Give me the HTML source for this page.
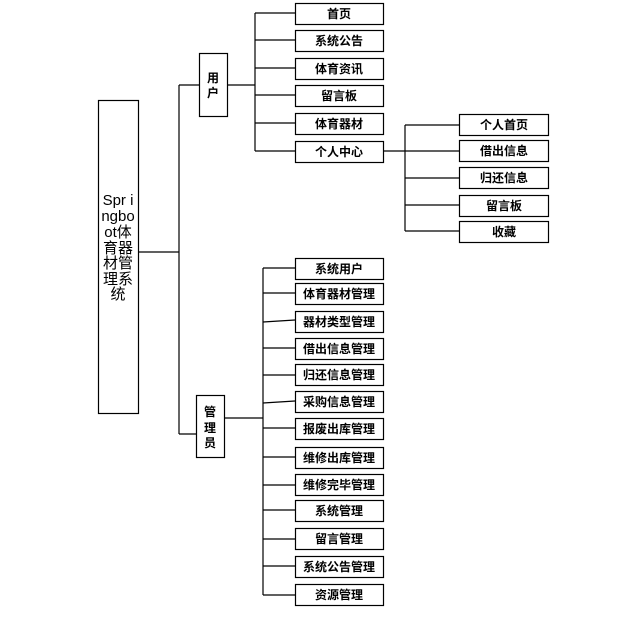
<!DOCTYPE html>
<html><head><meta charset="utf-8"><style>
html,body{margin:0;padding:0;background:#fff;}
svg text{font-family:"Liberation Sans","Noto Sans CJK SC",sans-serif;}
</style></head><body>
<svg width="630" height="618" viewBox="0 0 630 618" xmlns="http://www.w3.org/2000/svg">
<g stroke="#000" stroke-width="1.2" fill="none">
<!-- root -->
<rect x="98.5" y="100.5" width="40" height="313" fill="#fff"/>
<line x1="138" y1="252" x2="179" y2="252"/>
<line x1="179" y1="85" x2="179" y2="434"/>
<line x1="179" y1="85" x2="199" y2="85"/>
<line x1="179" y1="434" x2="196" y2="434"/>
<!-- user -->
<rect x="199.5" y="53.5" width="28" height="63" fill="#fff"/>
<line x1="227" y1="85" x2="255" y2="85"/>
<line x1="255" y1="13" x2="255" y2="151"/>
<line x1="255" y1="13" x2="295" y2="13"/>
<line x1="255" y1="40" x2="295" y2="40"/>
<line x1="255" y1="68" x2="295" y2="68"/>
<line x1="255" y1="95" x2="295" y2="95"/>
<line x1="255" y1="123" x2="295" y2="123"/>
<line x1="255" y1="151" x2="295" y2="151"/>
<rect x="295.5" y="3.5" width="88" height="21"/>
<rect x="295.5" y="30.5" width="88" height="21"/>
<rect x="295.5" y="58.5" width="88" height="21"/>
<rect x="295.5" y="85.5" width="88" height="21"/>
<rect x="295.5" y="113.5" width="88" height="21"/>
<rect x="295.5" y="141.5" width="88" height="21"/>
<!-- personal -->
<line x1="383" y1="151" x2="459" y2="151"/>
<line x1="405" y1="125" x2="405" y2="231"/>
<line x1="405" y1="125" x2="459" y2="125"/>
<line x1="405" y1="178" x2="459" y2="178"/>
<line x1="405" y1="205" x2="459" y2="205"/>
<line x1="405" y1="231" x2="459" y2="231"/>
<rect x="459.5" y="114.5" width="89" height="21"/>
<rect x="459.5" y="140.5" width="89" height="21"/>
<rect x="459.5" y="167.5" width="89" height="21"/>
<rect x="459.5" y="195.5" width="89" height="21"/>
<rect x="459.5" y="221.5" width="89" height="21"/>
<!-- manager -->
<rect x="196.5" y="395.5" width="28" height="62" fill="#fff"/>
<line x1="224" y1="418" x2="263" y2="418"/>
<line x1="263" y1="268" x2="263" y2="595"/>
<line x1="263" y1="268" x2="295" y2="268"/>
<line x1="263" y1="293" x2="295" y2="293"/>
<line x1="263" y1="322" x2="295" y2="320"/>
<line x1="263" y1="348" x2="295" y2="348"/>
<line x1="263" y1="375" x2="295" y2="375"/>
<line x1="263" y1="403" x2="295" y2="401"/>
<line x1="263" y1="428" x2="295" y2="428"/>
<line x1="263" y1="457" x2="295" y2="457"/>
<line x1="263" y1="485" x2="295" y2="485"/>
<line x1="263" y1="510" x2="295" y2="510"/>
<line x1="263" y1="539" x2="295" y2="539"/>
<line x1="263" y1="566" x2="295" y2="566"/>
<line x1="263" y1="595" x2="295" y2="595"/>
<rect x="295.5" y="258.5" width="88" height="21"/>
<rect x="295.5" y="283.5" width="88" height="21"/>
<rect x="295.5" y="311.5" width="88" height="21"/>
<rect x="295.5" y="338.5" width="88" height="21"/>
<rect x="295.5" y="364.5" width="88" height="21"/>
<rect x="295.5" y="391.5" width="88" height="21"/>
<rect x="295.5" y="418.5" width="88" height="21"/>
<rect x="295.5" y="447.5" width="88" height="21"/>
<rect x="295.5" y="474.5" width="88" height="21"/>
<rect x="295.5" y="500.5" width="88" height="21"/>
<rect x="295.5" y="528.5" width="88" height="21"/>
<rect x="295.5" y="556.5" width="88" height="21"/>
<rect x="295.5" y="584.5" width="88" height="21"/>
</g>
<g font-size="15" text-anchor="middle" fill="#000">
<text x="118" y="205">Spr i</text>
<text x="118" y="221">ngbo</text>
<text x="118" y="237">ot体</text>
<text x="118" y="253">育器</text>
<text x="118" y="268">材管</text>
<text x="118" y="284">理系</text>
<text x="118" y="299">统</text>
</g>
<g font-size="12" font-weight="bold" text-anchor="middle" fill="#000">
<text x="213" y="82">用</text><text x="213" y="97">户</text>
<text x="210" y="416">管</text><text x="210" y="432">理</text><text x="210" y="447">员</text>
<text x="339" y="18">首页</text>
<text x="339" y="45">系统公告</text>
<text x="339" y="73">体育资讯</text>
<text x="339" y="100">留言板</text>
<text x="339" y="128">体育器材</text>
<text x="339" y="156">个人中心</text>
<text x="504" y="129">个人首页</text>
<text x="504" y="155">借出信息</text>
<text x="504" y="182">归还信息</text>
<text x="504" y="210">留言板</text>
<text x="504" y="236">收藏</text>
<text x="339" y="273">系统用户</text>
<text x="339" y="298">体育器材管理</text>
<text x="339" y="326">器材类型管理</text>
<text x="339" y="353">借出信息管理</text>
<text x="339" y="379">归还信息管理</text>
<text x="339" y="406">采购信息管理</text>
<text x="339" y="433">报废出库管理</text>
<text x="339" y="462">维修出库管理</text>
<text x="339" y="489">维修完毕管理</text>
<text x="339" y="515">系统管理</text>
<text x="339" y="543">留言管理</text>
<text x="339" y="571">系统公告管理</text>
<text x="339" y="599">资源管理</text>
</g>
</svg>
</body></html>
